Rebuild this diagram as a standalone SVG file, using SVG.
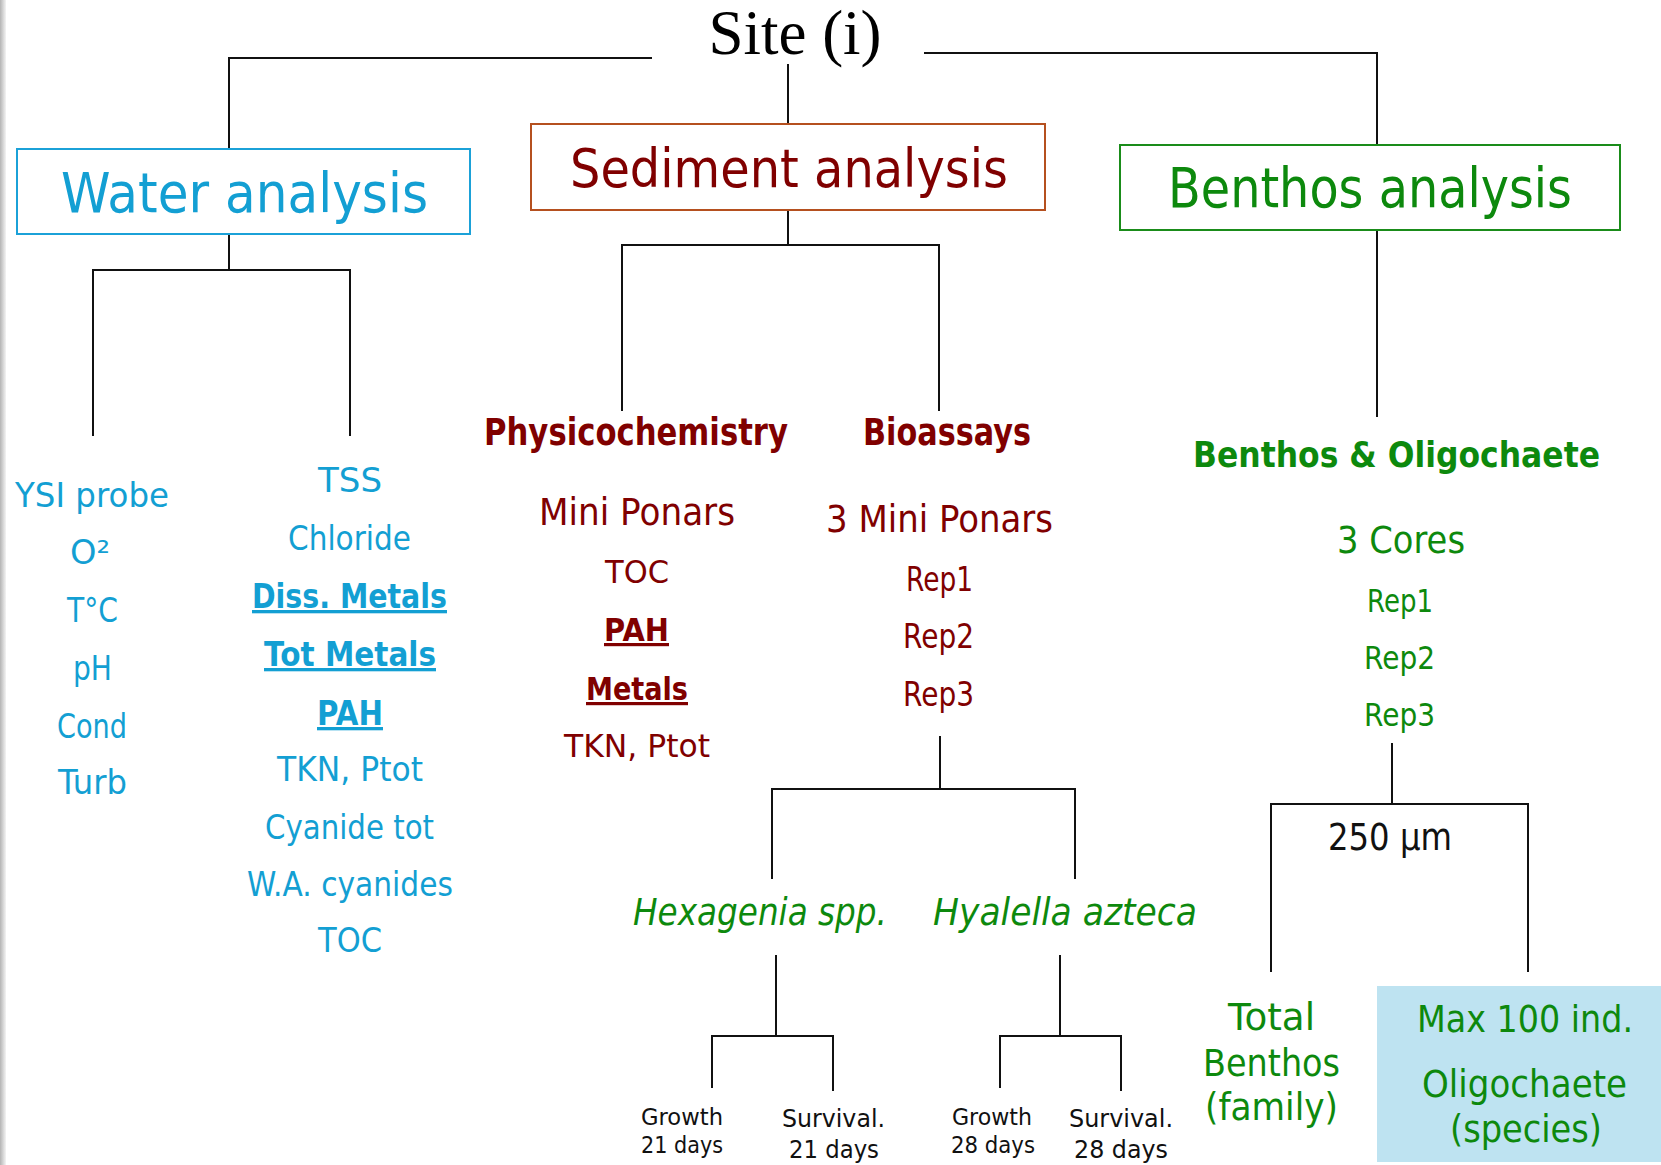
<svg xmlns="http://www.w3.org/2000/svg" width="1661" height="1165" viewBox="0 0 1661 1165">
<defs>
<linearGradient id="edge" x1="0" y1="0" x2="1" y2="0">
<stop offset="0" stop-color="#b4b4b4"/>
<stop offset="1" stop-color="#f4f4f4"/>
</linearGradient>
<style>
.c{font-family:"DejaVu Sans","Noto Sans",sans-serif;text-anchor:middle}
.b{font-weight:bold}
.i{font-style:italic}
.u{text-decoration:underline}
.blue{fill:#139fd3}
.red{fill:#800000}
.green{fill:#0d890d}
.blk{fill:#111}
.line{fill:none;stroke:#111;stroke-width:2}
</style>
</defs>
<rect width="1661" height="1165" fill="#fff"/>
<rect x="0" y="0" width="6" height="1165" fill="url(#edge)"/>

<g id="connectors" class="line">
<path d="M652,58 H229 V149"/>
<path d="M924,53 H1377 V145"/>
<path d="M788,64 V124"/>
<path d="M229,234 V270 M93,436 V270 H350 V436"/>
<path d="M788,210 V245 M622,411 V245 H939 V411"/>
<path d="M1377,230 V417"/>
<path d="M940,736 V789 M772,879 V789 H1075 V879"/>
<path d="M776,955 V1036 M712,1088 V1036 H833 V1091"/>
<path d="M1060,955 V1036 M1000,1088 V1036 H1121 V1091"/>
<path d="M1392,743 V804 M1271,972 V804 H1528 V972"/>
</g>

<g id="site">
<text x="795" y="54" font-family="'Liberation Serif',serif" font-size="63" fill="#000" text-anchor="middle">Site (i)</text>
</g>

<g id="water">
<rect x="17" y="149" width="453" height="85" fill="none" stroke="#1ba1d8" stroke-width="2"/>
<text class="c blue" x="244.5" y="212" font-size="55" textLength="367" lengthAdjust="spacingAndGlyphs">Water analysis</text>
</g>

<g id="water-field" font-size="33">
<text class="c blue" x="92" y="507" textLength="154" lengthAdjust="spacingAndGlyphs">YSI probe</text>
<text class="c blue" x="90" y="564" textLength="40" lengthAdjust="spacingAndGlyphs">O²</text>
<text class="c blue" x="92.5" y="622" textLength="51" lengthAdjust="spacingAndGlyphs">T°C</text>
<text class="c blue" x="92.5" y="680" textLength="39" lengthAdjust="spacingAndGlyphs">pH</text>
<text class="c blue" x="92" y="738" textLength="70" lengthAdjust="spacingAndGlyphs">Cond</text>
<text class="c blue" x="92.5" y="794" textLength="69" lengthAdjust="spacingAndGlyphs">Turb</text>
</g>

<g id="water-lab" font-size="33">
<text class="c blue" x="350" y="492" textLength="64" lengthAdjust="spacingAndGlyphs">TSS</text>
<text class="c blue" x="349.5" y="550" textLength="123" lengthAdjust="spacingAndGlyphs">Chloride</text>
<text class="c blue b u" x="349.5" y="608" textLength="195" lengthAdjust="spacingAndGlyphs">Diss. Metals</text>
<text class="c blue b u" x="350" y="666" textLength="172" lengthAdjust="spacingAndGlyphs">Tot Metals</text>
<text class="c blue b u" x="350" y="725" textLength="66" lengthAdjust="spacingAndGlyphs">PAH</text>
<text class="c blue" x="350" y="781" textLength="146" lengthAdjust="spacingAndGlyphs">TKN, Ptot</text>
<text class="c blue" x="349.5" y="839" textLength="169" lengthAdjust="spacingAndGlyphs">Cyanide tot</text>
<text class="c blue" x="350" y="896" textLength="206" lengthAdjust="spacingAndGlyphs">W.A. cyanides</text>
<text class="c blue" x="350" y="952" textLength="64" lengthAdjust="spacingAndGlyphs">TOC</text>
</g>

<g id="sediment">
<rect x="531" y="124" width="514" height="86" fill="none" stroke="#b5501f" stroke-width="2"/>
<text class="c red" x="789" y="187" font-size="53" textLength="438" lengthAdjust="spacingAndGlyphs">Sediment analysis</text>
</g>

<g id="physicochemistry">
<text class="c red b" x="636" y="445" font-size="37" textLength="304" lengthAdjust="spacingAndGlyphs">Physicochemistry</text>
<text class="c red" x="637" y="525" font-size="37" textLength="196" lengthAdjust="spacingAndGlyphs">Mini Ponars</text>
<text class="c red" x="637" y="583" font-size="32" textLength="64" lengthAdjust="spacingAndGlyphs">TOC</text>
<text class="c red b u" x="636.5" y="641" font-size="32" textLength="65" lengthAdjust="spacingAndGlyphs">PAH</text>
<text class="c red b u" x="637" y="700" font-size="32" textLength="102" lengthAdjust="spacingAndGlyphs">Metals</text>
<text class="c red" x="637" y="757" font-size="32" textLength="146" lengthAdjust="spacingAndGlyphs">TKN, Ptot</text>
</g>

<g id="bioassays">
<text class="c red b" x="947" y="445" font-size="37" textLength="168" lengthAdjust="spacingAndGlyphs">Bioassays</text>
<text class="c red" x="939.5" y="532" font-size="37" textLength="227" lengthAdjust="spacingAndGlyphs">3 Mini Ponars</text>
<text class="c red" x="939.5" y="591" font-size="33" textLength="67" lengthAdjust="spacingAndGlyphs">Rep1</text>
<text class="c red" x="938.5" y="648" font-size="33" textLength="71" lengthAdjust="spacingAndGlyphs">Rep2</text>
<text class="c red" x="938.5" y="706" font-size="33" textLength="71" lengthAdjust="spacingAndGlyphs">Rep3</text>
</g>

<g id="hexagenia">
<text class="c green i" x="760" y="925" font-size="37" textLength="254" lengthAdjust="spacingAndGlyphs">Hexagenia spp.</text>
</g>
<g id="hyalella">
<text class="c green i" x="1065" y="925" font-size="37" textLength="264" lengthAdjust="spacingAndGlyphs">Hyalella azteca</text>
</g>

<g id="hex-growth">
<text class="c blk" x="682" y="1125" font-size="23" textLength="82" lengthAdjust="spacingAndGlyphs">Growth</text>
<text class="c blk" x="682" y="1153" font-size="23" textLength="82" lengthAdjust="spacingAndGlyphs">21 days</text>
</g>
<g id="hex-survival">
<text class="c blk" x="833.5" y="1127" font-size="25" textLength="103" lengthAdjust="spacingAndGlyphs">Survival.</text>
<text class="c blk" x="834" y="1158" font-size="25" textLength="90" lengthAdjust="spacingAndGlyphs">21 days</text>
</g>
<g id="hya-growth">
<text class="c blk" x="992" y="1125" font-size="23" textLength="80" lengthAdjust="spacingAndGlyphs">Growth</text>
<text class="c blk" x="993" y="1153" font-size="23" textLength="84" lengthAdjust="spacingAndGlyphs">28 days</text>
</g>
<g id="hya-survival">
<text class="c blk" x="1121" y="1127" font-size="25" textLength="104" lengthAdjust="spacingAndGlyphs">Survival.</text>
<text class="c blk" x="1121" y="1158" font-size="25" textLength="94" lengthAdjust="spacingAndGlyphs">28 days</text>
</g>

<g id="benthos">
<rect x="1120" y="145" width="500" height="85" fill="none" stroke="#1a8c1a" stroke-width="2"/>
<text class="c green" x="1370" y="207" font-size="55" textLength="404" lengthAdjust="spacingAndGlyphs">Benthos analysis</text>
</g>

<g id="benthos-oligochaete">
<text class="c green b" x="1396.5" y="467" font-size="36" textLength="407" lengthAdjust="spacingAndGlyphs">Benthos &amp; Oligochaete</text>
<text class="c green" x="1401" y="553" font-size="38" textLength="128" lengthAdjust="spacingAndGlyphs">3 Cores</text>
<text class="c green" x="1400" y="612" font-size="32" textLength="66" lengthAdjust="spacingAndGlyphs">Rep1</text>
<text class="c green" x="1399.5" y="669" font-size="32" textLength="71" lengthAdjust="spacingAndGlyphs">Rep2</text>
<text class="c green" x="1399.5" y="726" font-size="32" textLength="71" lengthAdjust="spacingAndGlyphs">Rep3</text>
</g>

<g id="sieve">
<text class="c blk" x="1390" y="850" font-size="37" textLength="124" lengthAdjust="spacingAndGlyphs">250 µm</text>
</g>

<g id="total-benthos">
<text class="c green" x="1271.5" y="1030" font-size="37" textLength="87" lengthAdjust="spacingAndGlyphs">Total</text>
<text class="c green" x="1271.5" y="1076" font-size="37" textLength="137" lengthAdjust="spacingAndGlyphs">Benthos</text>
<text class="c green" x="1271.5" y="1120" font-size="37" textLength="133" lengthAdjust="spacingAndGlyphs">(family)</text>
</g>

<g id="oligochaete">
<rect x="1377" y="986" width="284" height="176" fill="#bee3f1"/>
<text class="c green" x="1525" y="1032" font-size="38" textLength="216" lengthAdjust="spacingAndGlyphs">Max 100 ind.</text>
<text class="c green" x="1524.5" y="1097" font-size="37" textLength="205" lengthAdjust="spacingAndGlyphs">Oligochaete</text>
<text class="c green" x="1526" y="1142" font-size="37" textLength="152" lengthAdjust="spacingAndGlyphs">(species)</text>
</g>
</svg>
